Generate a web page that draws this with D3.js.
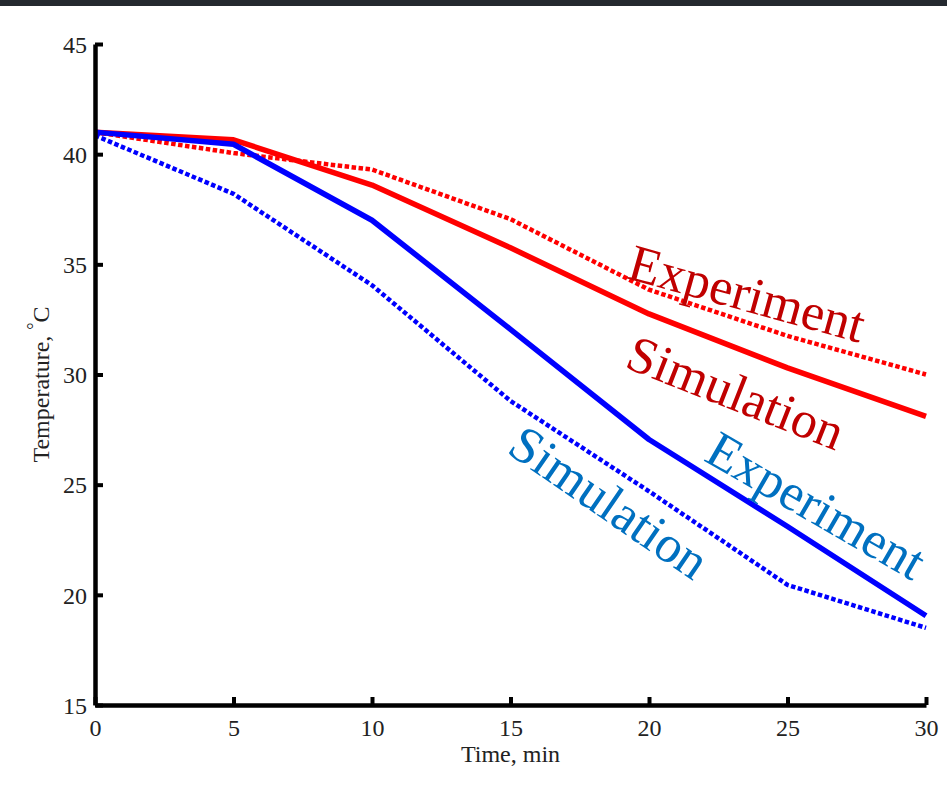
<!DOCTYPE html>
<html>
<head>
<meta charset="utf-8">
<script src="https://cdn.jsdelivr.net/npm/d3@7"></script>
<style>
  html, body { margin: 0; padding: 0; background: #fff; }
  .topbar { height: 6px; background: #24292f; }
  svg { display: block; }
  .tick-label, .axis-title { font-family: "Liberation Serif", "Times New Roman", serif; fill: #222; }
  .series-label { font-family: "Liberation Serif", "Times New Roman", serif; font-size: 52px; }
</style>
</head>
<body>
<div class="topbar"></div>
<div id="chart"></div>
<script>
// Time axis values (min)
const times = [0, 5, 10, 15, 20, 25, 30];

// Temperatures (deg C)
const redDotted  = [41.0, 40.05, 39.3, 37.05, 33.85, 31.75, 30.0];
const redSolid   = [41.0, 40.65, 38.6, 35.75, 32.75, 30.3, 28.1];
const blueSolid  = [41.0, 40.45, 37.0, 32.05, 27.05, 23.1, 19.05];
const blueDotted = [40.85, 38.2, 34.05, 28.8, 24.7, 20.45, 18.5];

const xTicks = [0, 5, 10, 15, 20, 25, 30];
const yTicks = [15, 20, 25, 30, 35, 40, 45];

// Label text, anchor (time, temp) and rotation
const labelTexts  = ["Experiment", "Simulation", "Experiment", "Simulation"];
const labelTimes  = [19.15, 19.07, 21.93, 14.81];
const labelTemps  = [34.38, 30.34, 26.12, 26.48];
const labelAngles = [15.5, 21.5, 30, 34.5];
const labelColors = ["#c00000", "#c00000", "#0070c0", "#0070c0"];

const width = 947, height = 784;
const margin = { top: 38, right: 21, bottom: 85, left: 95 };

const svg = d3.select("#chart")
    .append("svg")
    .attr("width", width)
    .attr("height", height);

const x = d3.scaleLinear().domain([0, 30]).range([margin.left, width - margin.right]);
const y = d3.scaleLinear().domain([15, 45]).range([height - margin.bottom, margin.top]);

// lines
const line = d3.line()
    .x((d, i) => x(times[i]))
    .y(d => y(d));

const series = [
    { values: redDotted,  color: "#ff0000", dash: "4.5,2.5", width: 4.5 },
    { values: redSolid,   color: "#ff0000", dash: null,      width: 5.5 },
    { values: blueSolid,  color: "#0000ff", dash: null,      width: 5.5 },
    { values: blueDotted, color: "#0000ff", dash: "4.5,2.5", width: 4.5 }
];

svg.append("g")
    .selectAll("path")
    .data(series)
    .enter().append("path")
    .attr("fill", "none")
    .attr("stroke", d => d.color)
    .attr("stroke-width", d => d.width)
    .attr("stroke-dasharray", d => d.dash)
    .attr("stroke-linejoin", "round")
    .attr("d", d => line(d.values));

// axes (ticks pointing inward)
const xAxis = svg.append("g")
    .attr("transform", `translate(0,${y(15)})`)
    .call(d3.axisBottom(x).tickValues(xTicks).tickSizeInner(-8).tickSizeOuter(0).tickPadding(14));

const yAxis = svg.append("g")
    .attr("transform", `translate(${x(0)},0)`)
    .call(d3.axisLeft(y).tickValues(yTicks).tickSizeInner(-8).tickSizeOuter(0).tickPadding(8));

[xAxis, yAxis].forEach(ax => {
    ax.select(".domain").attr("stroke", "#000").attr("stroke-width", 4.5);
    ax.selectAll(".tick line").attr("stroke", "#000").attr("stroke-width", 4);
    ax.selectAll(".tick text")
        .attr("class", "tick-label")
        .style("font-size", "24px")
        .attr("fill", "#222");
});
yAxis.selectAll(".tick text").attr("dy", "0.34em");
xAxis.selectAll(".tick text").attr("dy", "0.72em");

// axis titles
svg.append("text")
    .attr("class", "axis-title")
    .attr("x", x(15))
    .attr("y", height - 28)
    .attr("text-anchor", "middle")
    .style("font-size", "24px")
    .text("Time, min");

const yTitle = svg.append("text")
    .attr("class", "axis-title")
    .attr("transform", `translate(49,${(y(15) + y(45)) / 2 + 10}) rotate(-90)`)
    .attr("text-anchor", "middle")
    .style("font-size", "24px");
yTitle.append("tspan").text("Temperature, ");
yTitle.append("tspan").attr("dy", -9).style("font-size", "18px").text("\u00B0");
yTitle.append("tspan").attr("dy", 9).text("C");

// series labels
svg.append("g")
    .selectAll("text")
    .data(labelTexts)
    .enter().append("text")
    .attr("class", "series-label")
    .attr("fill", (d, i) => labelColors[i])
    .attr("transform", (d, i) =>
        `translate(${x(labelTimes[i])},${y(labelTemps[i])}) rotate(${labelAngles[i]})`)
    .text(d => d);
</script>
</body>
</html>
